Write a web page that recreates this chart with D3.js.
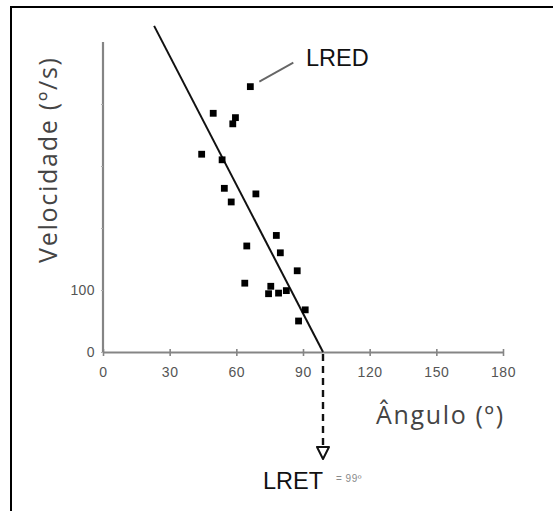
<!DOCTYPE html>
<html>
<head>
<meta charset="utf-8">
<script src="https://cdn.jsdelivr.net/npm/d3@7"></script>
<style>
  html, body { margin: 0; padding: 0; background: #fff; }
  svg { display: block; }
</style>
</head>
<body>
<svg id="chart" width="553" height="511"></svg>
<script>
// Measured joint angle (º) and angular velocity (º/s) per trial
const angles     = [66.3, 49.6, 59.6, 58.4, 44.4, 53.6, 54.6, 68.8, 57.7, 78.0, 64.7, 79.8, 87.4, 63.8, 75.5, 74.5, 79.0, 82.5, 91.0, 88.0];
const velocities = [428, 385, 378, 368, 319, 310, 264, 255, 242, 188, 171, 160, 131, 111, 106, 94, 95, 99, 68, 50];

// Fitted regression line end points
const fitAngles = [23, 99];
const fitVel    = [526, 0];

// Axis ticks
const xTicks = [0, 30, 60, 90, 120, 150, 180];
const yTicks = [0, 100, 200, 300, 400];
const yLabelled = [0, 100];

// Annotations
const lretValue = 99;
const lredIndex = 0;

const svg = d3.select("#chart");

// frame (top and left edge)
svg.append("path")
  .attr("d", "M11,560 L11,7 L560,7")
  .attr("fill", "none").attr("stroke", "#000").attr("stroke-width", 2);

const x = d3.scaleLinear().domain([0, 180]).range([103, 503]);
const y = d3.scaleLinear().domain([0, 500]).range([352, 42]);

const axisColor = "#858585";
const labelColor = "#555";

// x axis
const gx = svg.append("g").attr("transform", `translate(0,${y(0)})`)
  .call(d3.axisBottom(x).tickValues(xTicks).tickSizeInner(4).tickSizeOuter(0).tickPadding(11));
gx.select(".domain").attr("stroke", axisColor).attr("stroke-width", 2.2);
gx.selectAll(".tick line").attr("stroke", axisColor).attr("stroke-width", 1.6).attr("y1", -3).attr("y2", 4);
gx.selectAll(".tick text")
  .attr("fill", labelColor).attr("font-family", "Liberation Sans, Arial, sans-serif")
  .attr("font-size", 14).attr("letter-spacing", 0.6);

// y axis
const gy = svg.append("g").attr("transform", `translate(${x(0)},0)`)
  .call(d3.axisLeft(y).tickValues(yTicks).tickSizeInner(2).tickSizeOuter(0).tickPadding(6)
    .tickFormat(d => yLabelled.includes(d) ? d : ""));
gy.select(".domain").attr("stroke", axisColor).attr("stroke-width", 2.2)
  .attr("d", `M0,${y(500)}V${y(0)}`);
gy.selectAll(".tick line").attr("stroke", "#b0b0b0").attr("stroke-width", 1.2);
gy.selectAll(".tick text")
  .attr("fill", labelColor).attr("font-family", "Liberation Sans, Arial, sans-serif")
  .attr("font-size", 14).attr("letter-spacing", 0.4);

// axis titles
svg.append("text")
  .attr("x", 376).attr("y", 424)
  .attr("textLength", 127).attr("lengthAdjust", "spacing")
  .attr("font-family", "Open Sans, Noto Sans, sans-serif").attr("font-size", 25)
  .attr("fill", "#444")
  .text("Ângulo (º)");

svg.append("text")
  .attr("transform", "translate(57,263) rotate(-90)")
  .attr("textLength", 205).attr("lengthAdjust", "spacing")
  .attr("font-family", "Open Sans, Noto Sans, sans-serif").attr("font-size", 25)
  .attr("font-weight", 500)
  .attr("fill", "#444")
  .text("Velocidade (º/s)");

// regression line
svg.append("line")
  .attr("x1", x(fitAngles[0])).attr("y1", y(fitVel[0]))
  .attr("x2", x(fitAngles[1])).attr("y2", y(fitVel[1]))
  .attr("stroke", "#111").attr("stroke-width", 2);

// data points
svg.append("g").selectAll("rect")
  .data(angles.map((a, i) => [a, velocities[i]]))
  .join("rect")
  .attr("x", d => x(d[0]) - 3.4).attr("y", d => y(d[1]) - 3.4)
  .attr("width", 6.8).attr("height", 6.8)
  .attr("fill", "#000");

// LRET: dashed drop line to the angle axis crossing
const xl = x(lretValue);
svg.append("line")
  .attr("x1", xl).attr("y1", y(0) + 2).attr("x2", xl).attr("y2", 446)
  .attr("stroke", "#111").attr("stroke-width", 2.4).attr("stroke-dasharray", "7,5");
svg.append("path")
  .attr("d", `M${xl - 6},447 L${xl + 6},447 L${xl},459 Z`)
  .attr("fill", "#fff").attr("stroke", "#111").attr("stroke-width", 2).attr("stroke-linejoin", "round");
svg.append("text")
  .attr("x", 263).attr("y", 489)
  .attr("font-family", "Liberation Sans, Arial, sans-serif").attr("font-size", 23.5)
  .attr("fill", "#111")
  .text("LRET");
svg.append("text")
  .attr("x", 336).attr("y", 482)
  .attr("font-family", "Liberation Sans, Arial, sans-serif").attr("font-size", 10)
  .attr("fill", "#8a8a8a").attr("letter-spacing", 0.5)
  .text("= " + lretValue + "º");

// LRED: leader to the highest-velocity point
const px = x(angles[lredIndex]), py = y(velocities[lredIndex]);
svg.append("line")
  .attr("x1", px + 9).attr("y1", py - 5).attr("x2", px + 43).attr("y2", py - 24)
  .attr("stroke", "#666").attr("stroke-width", 1.8);
svg.append("text")
  .attr("x", 306).attr("y", 66)
  .attr("font-family", "Liberation Sans, Arial, sans-serif").attr("font-size", 23.5)
  .attr("fill", "#111")
  .text("LRED");
</script>
</body>
</html>
